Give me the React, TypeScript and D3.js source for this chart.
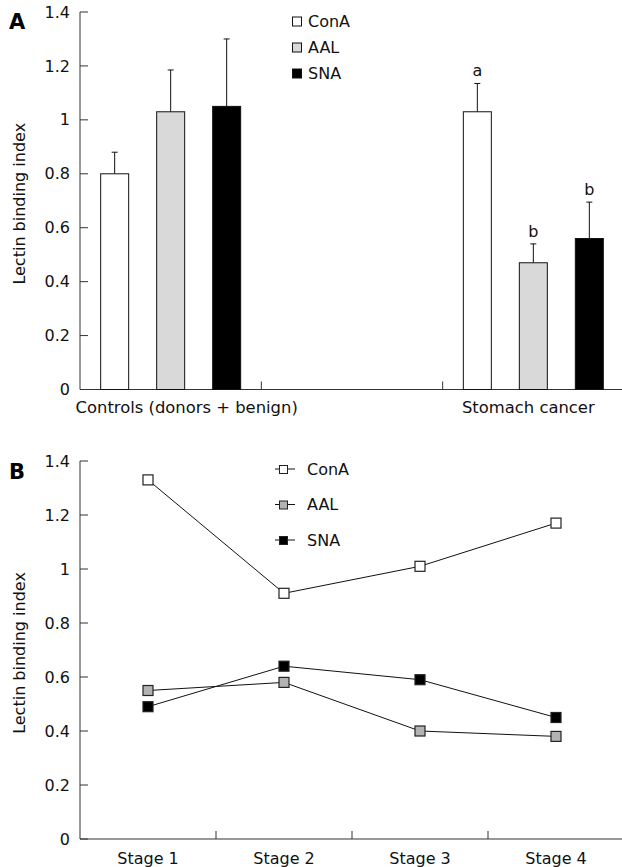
import React from "react";
import * as d3 from "d3";

const W = 622;
const H = 867;

// Panel A data
const groupsA = ["Controls (donors + benign)", "", "Stomach cancer"];
const lectins = ["ConA", "AAL", "SNA"];
const meansControls = [0.8, 1.03, 1.05];
const errControls = [0.88, 1.185, 1.3];
const meansCancer = [1.03, 0.47, 0.56];
const errCancer = [1.135, 0.54, 0.695];
const sigCancer = ["a", "b", "b"];
const yTicks = [0, 0.2, 0.4, 0.6, 0.8, 1, 1.2, 1.4];

// Panel B data
const stages = ["Stage 1", "Stage 2", "Stage 3", "Stage 4"];
const conAStage = [1.33, 0.91, 1.01, 1.17];
const aalStage = [0.55, 0.58, 0.4, 0.38];
const snaStage = [0.49, 0.64, 0.59, 0.45];

const fills = ["#ffffff", "#d9d9d9", "#000000"];
const markerFills = ["#ffffff", "#b3b3b3", "#000000"];
const FONT = "'DejaVu Sans', Verdana, sans-serif";
const AX = "#333";

export default function App() {
  const x0 = 80;
  const x1 = 624;

  // Panel A scales
  const yA = d3.scaleLinear().domain([0, 1.4]).range([389.5, 12]);
  const xA = d3.scaleBand<string>().domain(groupsA.map((g, i) => String(i))).range([x0, x1]).paddingInner(0).paddingOuter(0);
  const xInner = d3.scaleBand<string>().domain(lectins).range([-84, 84]).paddingInner(0.5).paddingOuter(0.25);
  const labelShift = [16, 0, -5];

  const barGroups = [
    { idx: 0, means: meansControls, errs: errControls, sig: ["", "", ""] },
    { idx: 2, means: meansCancer, errs: errCancer, sig: sigCancer },
  ];

  // Panel B scales
  const yB = d3.scaleLinear().domain([0, 1.4]).range([839, 461]);
  const xB = d3.scaleBand<string>().domain(stages).range([x0, x1]);
  const seriesB = [
    { name: "ConA", vals: conAStage },
    { name: "AAL", vals: aalStage },
    { name: "SNA", vals: snaStage },
  ];
  const line = d3
    .line<number>()
    .x((_, i) => (xB(stages[i]) as number) + xB.bandwidth() / 2)
    .y((v) => yB(v));

  const ms = 10;

  const yAxis = (ys: d3.ScaleLinear<number, number>) => (
    <g>
      <line x1={x0} x2={x0} y1={ys(0)} y2={ys(1.4)} stroke={AX} strokeWidth={1} />
      {yTicks.map((t) => (
        <g key={t}>
          <line x1={x0} x2={x0 + 8} y1={ys(t)} y2={ys(t)} stroke={AX} />
          <text x={70} y={ys(t)} dy="0.35em" textAnchor="end" fontSize={16} fontFamily={FONT} fill="#111">
            {d3.format("~g")(t)}
          </text>
        </g>
      ))}
      <line x1={x0} x2={x1} y1={ys(0)} y2={ys(0)} stroke={AX} strokeWidth={1} />
    </g>
  );

  return (
    <svg width={W} height={H} style={{ position: "absolute", left: 0, top: 0, background: "#fff" }}>
      <rect width={W} height={H} fill="#fff" />
      {/* Panel A */}
      <text x={9} y={29} fontSize={21} fontWeight="bold" fontFamily={FONT} fill="#000">A</text>
      {yAxis(yA)}
      <text transform={`translate(25,${(yA(0) + yA(1.4)) / 2 + 3}) rotate(-90)`} textAnchor="middle" fontSize={16} fontFamily={FONT} fill="#111">
        Lectin binding index
      </text>
      {[1, 2].map((i) => {
        const bx = xA(String(i)) as number;
        return <line key={i} x1={bx} x2={bx} y1={yA(0)} y2={yA(0) - 8} stroke={AX} />;
      })}
      {groupsA.map((g, i) => (
        <text key={i} x={(xA(String(i)) as number) + xA.bandwidth() / 2 + labelShift[i]} y={407} dy="0.35em" textAnchor="middle" fontSize={16.4} fontFamily={FONT} fill="#111">
          {g}
        </text>
      ))}
      {barGroups.map((grp) => {
        const cx = (xA(String(grp.idx)) as number) + xA.bandwidth() / 2;
        return (
          <g key={grp.idx}>
            {lectins.map((l, j) => {
              const bx = cx + (xInner(l) as number);
              const bw = xInner.bandwidth();
              const mid = bx + bw / 2;
              return (
                <g key={l}>
                  <line x1={mid} x2={mid} y1={yA(grp.means[j])} y2={yA(grp.errs[j])} stroke="#111" />
                  <line x1={mid - 3} x2={mid + 3} y1={yA(grp.errs[j])} y2={yA(grp.errs[j])} stroke="#111" />
                  <rect x={bx} y={yA(grp.means[j])} width={bw} height={yA(0) - yA(grp.means[j])} fill={fills[j]} stroke="#111" strokeWidth={1} />
                  {grp.sig[j] && (
                    <text x={mid} y={yA(grp.errs[j]) - 7} textAnchor="middle" fontSize={16} fontFamily={FONT} fill="#111">
                      {grp.sig[j]}
                    </text>
                  )}
                </g>
              );
            })}
          </g>
        );
      })}
      {/* Legend A */}
      {lectins.map((l, j) => (
        <g key={l} transform={`translate(292,${21.5 + j * 26})`}>
          <rect x={0.5} y={-4.5} width={9} height={9} fill={fills[j]} stroke="#111" />
          <text x={16} y={0} dy="0.35em" fontSize={16} fontFamily={FONT} fill="#111">{l}</text>
        </g>
      ))}

      {/* Panel B */}
      <text x={9} y={479} fontSize={21} fontWeight="bold" fontFamily={FONT} fill="#000">B</text>
      {yAxis(yB)}
      <text transform={`translate(25,${(yB(0) + yB(1.4)) / 2 + 3}) rotate(-90)`} textAnchor="middle" fontSize={16} fontFamily={FONT} fill="#111">
        Lectin binding index
      </text>
      {stages.slice(1).map((s) => {
        const bx = xB(s) as number;
        return <line key={s} x1={bx} x2={bx} y1={yB(0)} y2={yB(0) - 8} stroke={AX} />;
      })}
      {stages.map((s) => (
        <text key={s} x={(xB(s) as number) + xB.bandwidth() / 2} y={858} dy="0.35em" textAnchor="middle" fontSize={16} fontFamily={FONT} fill="#111">
          {s}
        </text>
      ))}
      {seriesB.map((s, k) => (
        <g key={s.name}>
          <path d={line(s.vals) || ""} fill="none" stroke="#111" strokeWidth={1} />
          {s.vals.map((v, i) => {
            const cx = (xB(stages[i]) as number) + xB.bandwidth() / 2;
            return (
              <rect key={i} x={cx - ms / 2} y={yB(v) - ms / 2} width={ms} height={ms} fill={markerFills[k]} stroke="#222" strokeWidth={1.2} />
            );
          })}
        </g>
      ))}
      {/* Legend B */}
      {seriesB.map((s, k) => (
        <g key={s.name} transform={`translate(283,${469 + k * 35.5})`}>
          <line x1={-8} x2={12} y1={0} y2={0} stroke="#111" />
          <rect x={-3.5} y={-3.5} width={8} height={8} fill={markerFills[k]} stroke="#222" />
          <text x={24} y={0} dy="0.35em" fontSize={16} fontFamily={FONT} fill="#111">{s.name}</text>
        </g>
      ))}
    </svg>
  );
}
